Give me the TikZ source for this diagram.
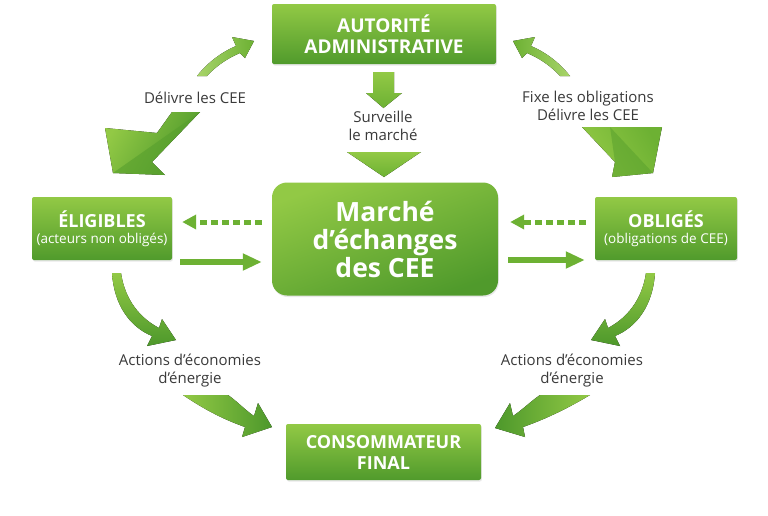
\documentclass[tikz,border=0pt]{standalone}
\usepackage{fontspec}
\setmainfont{Open Sans}
\usetikzlibrary{arrows.meta,shadows}
\definecolor{gL}{HTML}{92C945}
\definecolor{gM}{HTML}{6DB133}
\definecolor{gD}{HTML}{4D982B}
\definecolor{txt}{HTML}{3A3A3A}
\tikzset{
  box/.style={rectangle, rounded corners=2pt, top color=gL, bottom color=gD!90!gM, text=white,
    align=center, inner sep=0pt, drop shadow={opacity=0.18, shadow xshift=0.8pt, shadow yshift=-1.5pt}},
  lbl/.style={text=txt, align=center, font=\fontsize{15}{18}\selectfont, inner sep=0pt},
  solidarrow/.style={draw=gM, line width=6pt, -{Triangle[length=19pt,width=16pt]}},
  dotarrow/.style={draw=gM, line width=5pt, dash pattern=on 7pt off 4pt, -{Triangle[length=14pt,width=14pt]}}
}
\begin{document}
\begin{tikzpicture}[x=1pt,y=-1pt]
\useasboundingbox (0,0) rectangle (768,515);
\fill[white] (0,0) rectangle (768,515);

% boxes
\node[box, minimum width=224pt, minimum height=60pt, font=\bfseries\fontsize{19}{21}\selectfont] (auth) at (384,34) {AUTORITÉ\\ADMINISTRATIVE};
\node[box, rounded corners=15pt, minimum width=226pt, minimum height=113pt, font=\bfseries\fontsize{26.5}{28}\selectfont, shading angle=20] (mkt) at (385,239) {Marché\\d’échanges\\des CEE};
\node[box, minimum width=140pt, minimum height=63pt] (elig) at (102,228.5)
  {{\bfseries\fontsize{18}{20}\selectfont ÉLIGIBLES}\\[4pt]{\fontsize{13.5}{15}\selectfont (acteurs non obligés)}};
\node[box, minimum width=142pt, minimum height=63pt] (obl) at (666,228.5)
  {{\bfseries\fontsize{18}{20}\selectfont OBLIGÉS}\\[4pt]{\fontsize{13.5}{15}\selectfont (obligations de CEE)}};
\node[box, minimum width=195pt, minimum height=56pt, font=\bfseries\fontsize{18}{21}\selectfont] (cons) at (383.5,452) {CONSOMMATEUR\\FINAL};

% labels
\node[lbl] (l1) at (195,98) {Délivre les CEE};
\node[lbl] (l2) at (588,106) {Fixe les obligations\\Délivre les CEE};
\node[lbl] (l3) at (383,126) {Surveille\\le marché};
\node[lbl] (l4) at (190,371) {Actions d’économies\\d’énergie};
\node[lbl] (l5) at (572,371) {Actions d’économies\\d’énergie};

% down arrow under authority
\fill[top color=gL, bottom color=gM] (373,72) -- (394,72) -- (394,93) -- (402,93) -- (383.5,108) -- (366,93) -- (373,93) -- cycle;
% big triangle above market
\fill[top color=gL, bottom color=gM] (347,152) -- (421,152) -- (384,177) -- cycle;

% small curved arrows at top
\fill[left color=gL!80!white, right color=gM] (197,76) .. controls (208,62) and (222,52) .. (236,46) -- (232,37) -- (254,41) -- (245,58) -- (240,53) .. controls (228,58) and (216,66) .. (207,76) -- cycle;
\fill[right color=gL!80!white, left color=gM] (570,76) .. controls (559,62) and (545,52) .. (531,46) -- (535,37) -- (513,41) -- (522,58) -- (527,53) .. controls (539,58) and (551,66) .. (560,76) -- cycle;

% big block arrows
\fill[left color=gL, right color=gD, shading angle=60] (172,112) -- (200,112) -- (152,162) -- (165,175) -- (113,173) -- (105,128) -- (157,133) -- cycle;
\fill[gD!70!gM, opacity=0.6] (200,112) -- (152,162) -- (165,175) -- (113,173) -- cycle;
\fill[left color=gM, right color=gL, shading angle=-60] (582,127) -- (662,127) -- (653,173) -- (612,177) -- (615,162) -- cycle;
\fill[gD!70!gM, opacity=0.5] (610,127) -- (653,173) -- (612,177) -- (615,162) -- cycle;

% bottom curved arrows (left)
\fill[top color=gL, bottom color=gD] (112,273) .. controls (114,305) and (130,327) .. (152,336) -- (147,346) -- (176,340) -- (162,319) -- (159,328) .. controls (140,318) and (125,300) .. (121,273) -- cycle;
\fill[left color=gL, right color=gD] (183,395) .. controls (205,410) and (225,420) .. (245,427) -- (242,437) -- (272,427) -- (258,403) -- (254,416) .. controls (245,410) and (238,402) .. (228,395) -- cycle;
% bottom curved arrows (right)
\fill[top color=gL, bottom color=gD] (655,273) .. controls (653,305) and (637,327) .. (615,336) -- (620,346) -- (591,340) -- (605,319) -- (608,328) .. controls (627,318) and (642,300) .. (646,273) -- cycle;
\fill[right color=gL, left color=gD] (590,395) .. controls (565,410) and (543,420) .. (523,427) -- (525,437) -- (495,428) -- (510,403) -- (513,416) .. controls (522,410) and (530,402) .. (540,395) -- cycle;

% straight arrows between boxes and market
\draw[dotarrow] ([shift={(-10,-17)}]mkt.west) -- ([shift={(10,-6.5)}]elig.east);
\draw[solidarrow] ([shift={(8,33.5)}]elig.east) -- ([shift={(-10,23)}]mkt.west);
\draw[dotarrow] ([shift={(-9,-6.5)}]obl.west) -- ([shift={(12,-17)}]mkt.east);
\draw[solidarrow] ([shift={(10,21)}]mkt.east) -- ([shift={(-10,31.5)}]obl.west);
\end{tikzpicture}
\end{document}
